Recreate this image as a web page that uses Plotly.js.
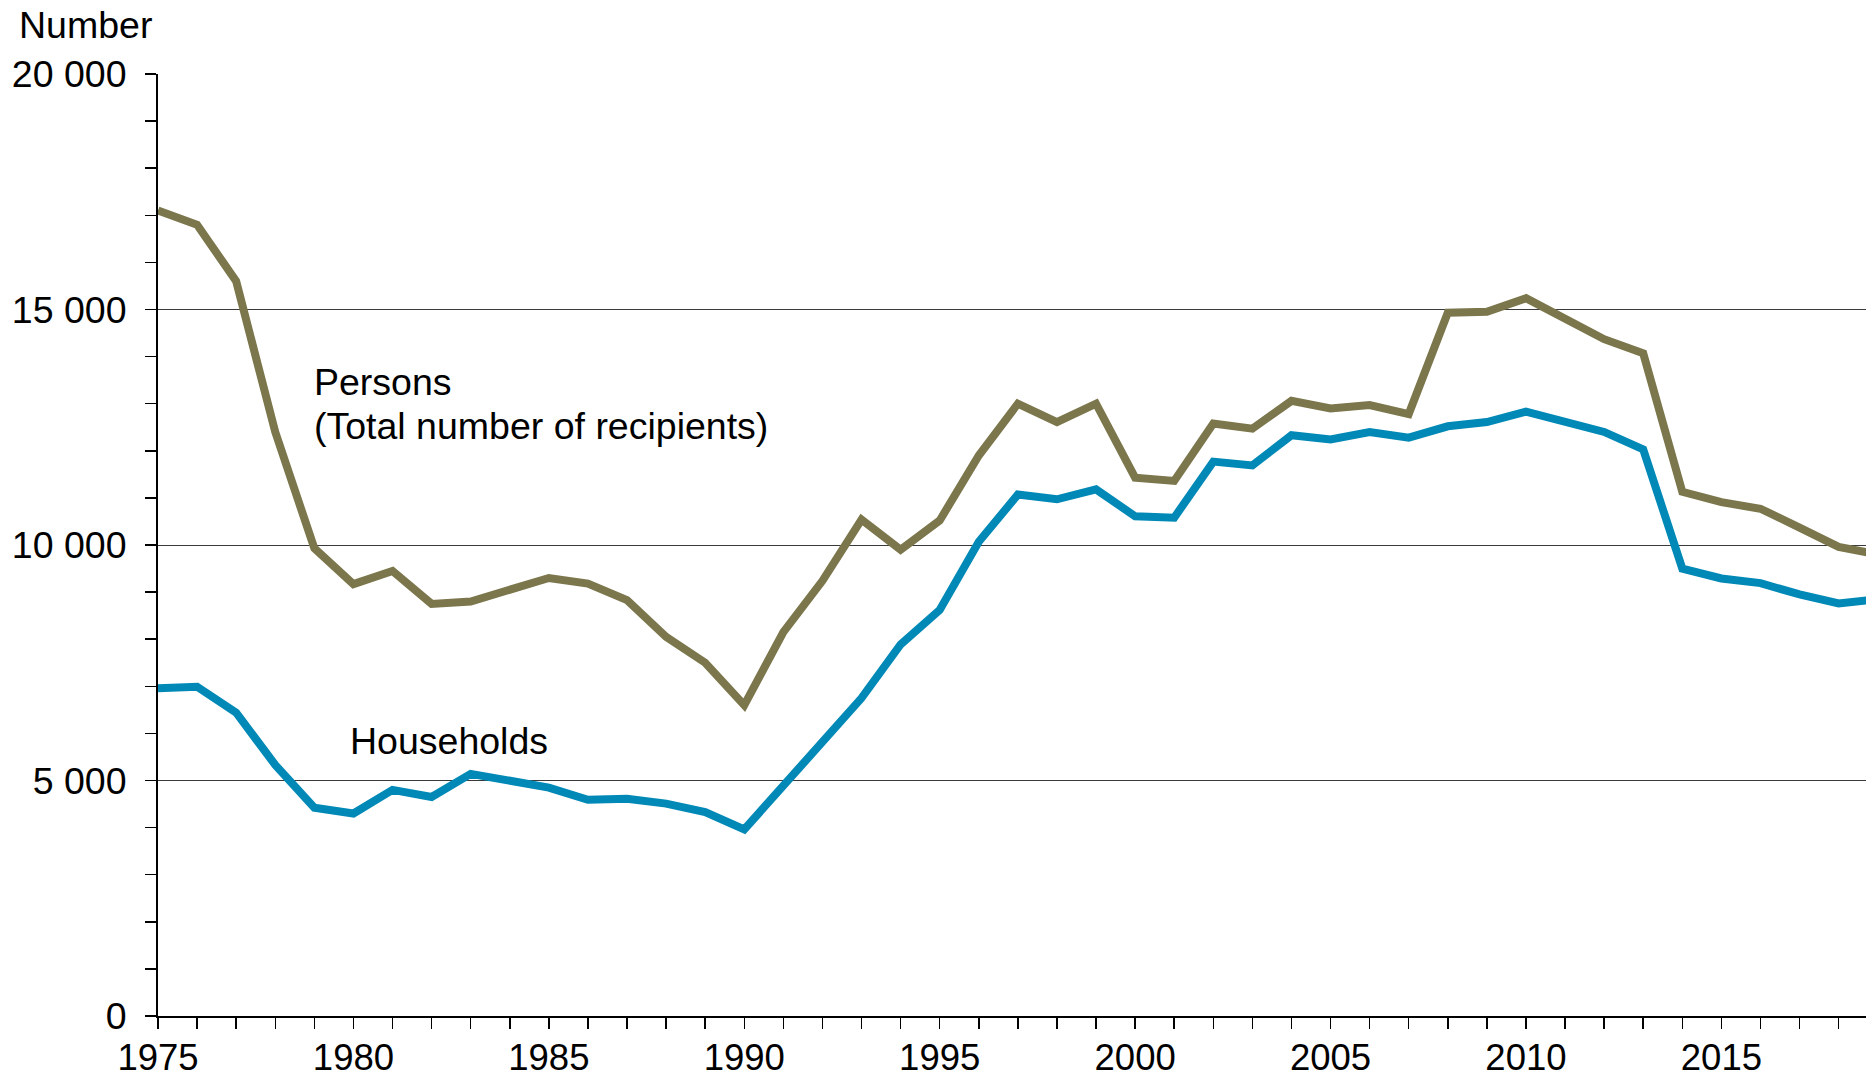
<!DOCTYPE html>
<html>
<head>
<meta charset="utf-8">
<script src="https://cdn.plot.ly/plotly-3.0.1.min.js"></script>
<style>
  html, body { margin: 0; padding: 0; background: #ffffff; }
  #chart { width: 1866px; height: 1078px; }
</style>
</head>
<body>
<div id="chart"></div>
<script>
// ---- Data ----
const years = [1975,1976,1977,1978,1979,1980,1981,1982,1983,1984,
               1985,1986,1987,1988,1989,1990,1991,1992,1993,1994,
               1995,1996,1997,1998,1999,2000,2001,2002,2003,2004,
               2005,2006,2007,2008,2009,2010,2011,2012,2013,2014,
               2015,2016,2017,2018,2019];

const persons = [17100,16800,15600,12400,9930,9170,9450,8750,8800,9050,
                 9300,9180,8830,8050,7500,6600,8150,9240,10540,9900,
                 10520,11900,13000,12610,13000,11430,11360,12580,12470,13060,
                 12900,12970,12780,14930,14950,15240,14810,14370,14070,11130,
                 10910,10770,10370,9960,9800];

const households = [6960,6990,6440,5330,4420,4300,4800,4650,5140,5010,
                    4850,4590,4610,4510,4330,3960,4900,5780,6750,7890,
                    8620,10070,11070,10970,11180,10610,10580,11770,11690,12330,
                    12240,12400,12280,12520,12610,12830,12610,12400,12030,9500,
                    9290,9190,8950,8760,8850];

const seriesNames = ["Persons", "Households"];
const labelPersons = ["Persons", "(Total number of recipients)"];
const labelHouseholds = "Households";
const yAxisLabel = "Number";
const xTickVals = [1975,1980,1985,1990,1995,2000,2005,2010,2015];
const xTickText = ["1975","1980","1985","1990","1995","2000","2005","2010","2015"];
const yTickVals = [0,5000,10000,15000,20000];
const yTickText = ["0","5 000","10 000","15 000","20 000"];

// ---- Styling ----
const FONT = "Liberation Sans, Arial, Helvetica, sans-serif";
const FS = 37.5;
const colPersons = "#7b764b";
const colHouseholds = "#0089b6";

const traces = [
  { x: years, y: persons, name: seriesNames[0], type: "scatter", mode: "lines",
    line: { color: colPersons, width: 8 }, hoverinfo: "skip" },
  { x: years, y: households, name: seriesNames[1], type: "scatter", mode: "lines",
    line: { color: colHouseholds, width: 8 }, hoverinfo: "skip" }
];

const layout = {
  width: 1866, height: 1078,
  margin: { l: 158, r: 0, t: 74, b: 62, pad: 0 },
  paper_bgcolor: "#ffffff", plot_bgcolor: "#ffffff",
  showlegend: false,
  font: { family: FONT, size: FS, color: "#000000" },
  xaxis: {
    range: [1975, 2018.7],
    tickmode: "array", tickvals: xTickVals, ticktext: xTickText,
    ticks: "outside", ticklen: 11, tickwidth: 1.5, tickcolor: "#000000",
    ticklabelstandoff: -3,
    minor: { dtick: 1, tick0: 1975, ticks: "outside", ticklen: 11, tickwidth: 1.5, tickcolor: "#000000", showgrid: false },
    showline: true, linecolor: "#000000", linewidth: 2,
    showgrid: false, zeroline: false,
    tickfont: { family: FONT, size: 36.5, color: "#000000" }
  },
  yaxis: {
    range: [0, 20000],
    tickmode: "array", tickvals: yTickVals, ticktext: yTickText,
    ticks: "outside", ticklen: 11, tickwidth: 1.5, tickcolor: "#000000",
    ticklabelstandoff: 11,
    minor: { dtick: 1000, tick0: 0, ticks: "outside", ticklen: 11, tickwidth: 1.5, tickcolor: "#000000", showgrid: false },
    showline: true, linecolor: "#000000", linewidth: 2,
    showgrid: true, gridcolor: "#3a3a3a", gridwidth: 1,
    zeroline: false,
    tickfont: { family: FONT, size: FS, color: "#000000" }
  },
  annotations: [
    { text: yAxisLabel, xref: "paper", yref: "paper", x: -141/1708, y: (1016-25)/942,
      xanchor: "left", yanchor: "middle", showarrow: false,
      font: { family: FONT, size: FS, color: "#000000" } },
    { text: labelPersons[0], xref: "paper", yref: "paper", x: (312-158)/1708, y: (1016-382)/942,
      xanchor: "left", yanchor: "middle", showarrow: false,
      font: { family: FONT, size: FS, color: "#000000" } },
    { text: labelPersons[1], xref: "paper", yref: "paper", x: (312-158)/1708, y: (1016-426)/942,
      xanchor: "left", yanchor: "middle", showarrow: false,
      font: { family: FONT, size: FS, color: "#000000" } },
    { text: labelHouseholds, xref: "paper", yref: "paper", x: (348-158)/1708, y: (1016-741)/942,
      xanchor: "left", yanchor: "middle", showarrow: false,
      font: { family: FONT, size: FS, color: "#000000" } }
  ]
};

Plotly.newPlot("chart", traces, layout, { staticPlot: true, displayModeBar: false });
</script>
</body>
</html>
